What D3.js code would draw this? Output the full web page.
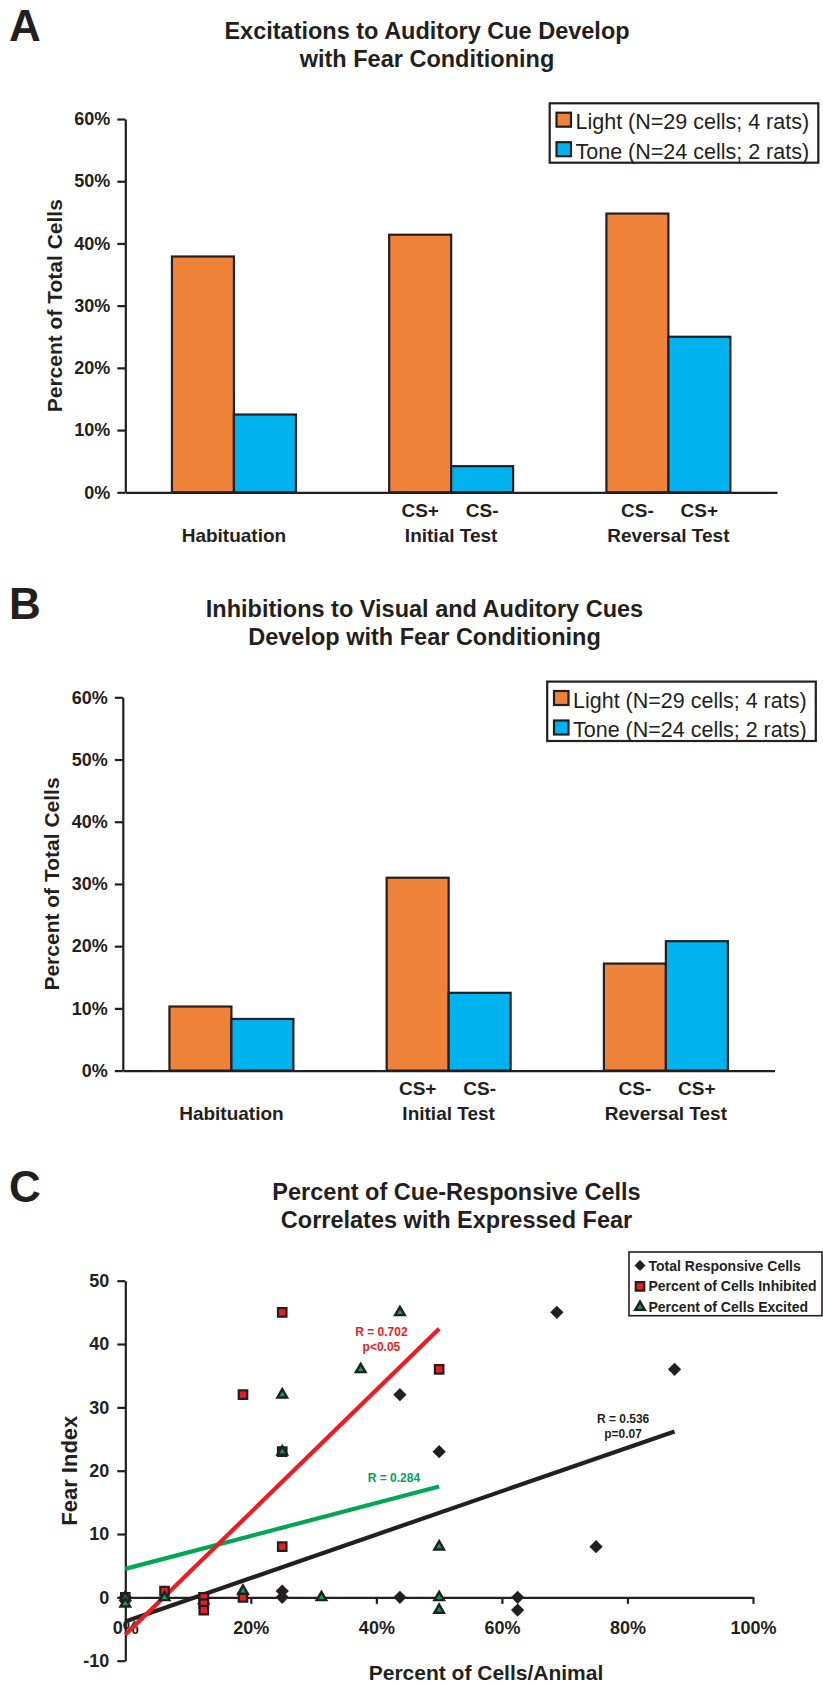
<!DOCTYPE html>
<html><head><meta charset="utf-8">
<script src="https://cdn.jsdelivr.net/npm/d3@7"></script>
<style>
html,body{margin:0;padding:0;background:#fff;}
svg text{font-family:"Liberation Sans",Arial,Helvetica,sans-serif;fill:#231f20;}
</style></head>
<body>
<svg id="chart" width="823" height="1685"></svg>
<script>
// ---------- DATA ----------
const groups = ["Habituation", "Initial Test", "Reversal Test"];
const cueLabels = [["", ""], ["CS+", "CS-"], ["CS-", "CS+"]];
const series = ["Light (N=29 cells; 4 rats)", "Tone (N=24 cells; 2 rats)"];
const excitLight = [37.9, 41.4, 44.8];
const excitTone = [12.5, 4.2, 25.0];
const inhibLight = [10.3, 31.0, 17.2];
const inhibTone = [8.3, 12.5, 20.8];
const barTicks = [0, 10, 20, 30, 40, 50, 60];
const titleA = ["Excitations to Auditory Cue Develop", "with Fear Conditioning"];
const titleB = ["Inhibitions to Visual and Auditory Cues", "Develop with Fear Conditioning"];
const titleC = ["Percent of Cue-Responsive Cells", "Correlates with Expressed Fear"];

// Panel C: one entry per animal
const fearIndex = [45, 36, 32, 23, 8, 1, 0, 0, 0, 0, -1, -2];
const totalPct = [68.75, 87.5, 43.75, 50, 75, 25, 25, 43.75, 62.5, 0, 12.5, 62.5];
const inhibPct = [25, 50, 18.75, 25, 25, 6.25, 18.75, 12.5, 12.5, 0, 12.5, 12.5];
const excitPct = [43.75, 37.5, 25, 25, 50, 18.75, 6.25, 31.25, 50, 0, 0, 50];
const scatterNames = ["Total Responsive Cells", "Percent of Cells Inhibited", "Percent of Cells Excited"];
const fitTotal = [[0, -3.8], [87.5, 26.2]];
const fitInhib = [[0, -5.9], [50, 42.4]];
const fitExcit = [[0, 4.5], [50, 17.5]];
const fitTotalLabel = {lines: ["R = 0.536", "p=0.07"], x: 79.3, y: 27.6};
const fitInhibLabel = {lines: ["R = 0.702", "p<0.05"], x: 40.8, y: 41.2};
const fitExcitLabel = {lines: ["R = 0.284"], x: 42.8, y: 18.2};
const cXTicks = [0, 20, 40, 60, 80, 100];
const cYTicks = [-10, 0, 10, 20, 30, 40, 50];

// ---------- STYLE ----------
const INK = "#231f20";
const ORANGE = "#F0833A";
const BLUE = "#00B3EE";
const RED = "#ED1C24";
const GREEN = "#00A651";

const svg = d3.select("#chart");

function styleAxis(g) {
  g.select(".domain").attr("stroke", INK).attr("stroke-width", 2.2);
  g.selectAll(".tick line").attr("stroke", INK).attr("stroke-width", 2.2);
  g.selectAll(".tick text").attr("fill", INK).attr("font-size", 18).attr("font-weight", "bold")
    .attr("font-family", '"Liberation Sans",Arial,sans-serif');
}

function barPanel(letter, title, light, tone, dx, dy) {
  const g = svg.append("g").attr("transform", `translate(${dx},${dy})`);
  g.append("text").attr("x", 9 - dx).attr("y", 41).attr("font-size", 44).attr("font-weight", "bold").text(letter);
  g.append("text").attr("x", 427).attr("text-anchor", "middle").attr("font-size", 23.5).attr("font-weight", "bold")
    .selectAll("tspan").data(title).join("tspan").attr("x", 427).attr("y", (d, i) => 39 + i * 27.5).text(d => d);

  const y = d3.scaleLinear().domain([0, 60]).range([492.3, 119]);
  const x0 = d3.scaleBand().domain(groups).range([125.3, 777]).paddingInner(0.4294).paddingOuter(0.2147);
  const x1 = d3.scaleBand().domain([0, 1]).range([0, x0.bandwidth()]);

  // bars
  const rows = groups.map((k, i) => ({k, i, vals: [light[i], tone[i]]}));
  const gg = g.append("g").selectAll("g").data(rows).join("g").attr("transform", d => `translate(${x0(d.k)},0)`);
  gg.selectAll("rect").data(d => d.vals.map((v, j) => ({v, j}))).join("rect")
    .attr("x", d => x1(d.j)).attr("width", x1.bandwidth())
    .attr("y", d => y(d.v)).attr("height", d => y(0) - y(d.v))
    .attr("fill", d => d.j === 0 ? ORANGE : BLUE).attr("stroke", INK).attr("stroke-width", 2.2);

  // axes
  g.append("g").attr("transform", `translate(0,${y(0)})`)
    .call(d3.axisBottom(x0).tickSize(0).tickSizeOuter(0).tickFormat(""))
    .call(styleAxis);
  g.append("g").attr("transform", "translate(125.3,0)")
    .call(d3.axisLeft(y).tickValues(barTicks).tickSize(8).tickSizeOuter(0).tickPadding(7).tickFormat(d => d + "%"))
    .call(styleAxis);

  // category labels
  g.append("g").selectAll("text").data(groups).join("text")
    .attr("x", d => x0(d) + x0.bandwidth() / 2).attr("y", 541.7)
    .attr("text-anchor", "middle").attr("font-size", 19).attr("font-weight", "bold").text(d => d);
  g.append("g").selectAll("g").data(rows).join("g").attr("transform", d => `translate(${x0(d.k)},0)`)
    .selectAll("text").data(d => cueLabels[d.i].map((t, j) => ({t, j}))).join("text")
    .attr("x", d => x1(d.j) + x1.bandwidth() / 2).attr("y", 516.7)
    .attr("text-anchor", "middle").attr("font-size", 19).attr("font-weight", "bold").text(d => d.t);

  // y title
  g.append("text").attr("transform", "translate(61.5,305.7) rotate(-90)").attr("text-anchor", "middle")
    .attr("font-size", 21).attr("font-weight", "bold").text("Percent of Total Cells");

  // legend
  const lg = g.append("g");
  lg.append("rect").attr("x", 549.7).attr("y", 103.3).attr("width", 268.6).attr("height", 59.4)
    .attr("fill", "#fff").attr("stroke", INK).attr("stroke-width", 2.2);
  const items = lg.selectAll("g").data(series).join("g").attr("transform", (d, i) => `translate(0,${i * 29.5})`);
  items.append("rect").attr("x", 556.5).attr("y", 112.7).attr("width", 14.5).attr("height", 14)
    .attr("fill", (d, i) => i === 0 ? ORANGE : BLUE).attr("stroke", INK).attr("stroke-width", 2.2);
  items.append("text").attr("x", 575.5).attr("y", 129.3).attr("font-size", 21.5).text(d => d);
}

barPanel("A", titleA, excitLight, excitTone, 0, 0);
barPanel("B", titleB, inhibLight, inhibTone, -2.5, 578.3);

// ---------- PANEL C ----------
(function () {
  const g = svg.append("g");
  g.append("text").attr("x", 9).attr("y", 1202).attr("font-size", 44).attr("font-weight", "bold").text("C");
  g.append("text").attr("text-anchor", "middle").attr("font-size", 23.5).attr("font-weight", "bold")
    .selectAll("tspan").data(titleC).join("tspan").attr("x", 456.5).attr("y", (d, i) => 1199.5 + i * 28.5).text(d => d);

  const x = d3.scaleLinear().domain([0, 100]).range([125.3, 753]);
  const y = d3.scaleLinear().domain([-10, 50]).range([1660.7, 1280.7]);

  g.append("g").attr("transform", `translate(0,${y(0)})`)
    .call(d3.axisBottom(x).tickValues(cXTicks).tickSize(6.5).tickSizeOuter(0).tickPadding(17.5).tickFormat(d => d + "%"))
    .call(styleAxis)
    .call(a => a.selectAll(".tick").filter(d => d === 0).select("line").remove());
  g.append("g").attr("transform", `translate(${x(0)},0)`)
    .call(d3.axisLeft(y).tickValues(cYTicks).tickSize(8).tickSizeOuter(0).tickPadding(8).tickFormat(d => d))
    .call(styleAxis);

  // fit lines
  const line = d3.line().x(d => x(d[0])).y(d => y(d[1]));
  [[fitExcit, GREEN], [fitTotal, INK], [fitInhib, RED]].forEach(([pts, c]) => {
    g.append("path").attr("d", line(pts)).attr("stroke", c).attr("stroke-width", 4.2).attr("fill", "none");
  });

  // markers
  const diamond = d3.symbol(d3.symbolSquare, 88)();
  const square = d3.symbol(d3.symbolSquare, 72)();
  const tri = d3.symbol(d3.symbolTriangle, 40)();
  const pts = fearIndex.map((f, i) => ({f, t: totalPct[i], inh: inhibPct[i], exc: excitPct[i]}));
  g.append("g").selectAll("path").data(pts).join("path").attr("d", diamond)
    .attr("transform", d => `translate(${x(d.t)},${y(d.f)}) rotate(45)`).attr("fill", INK);
  g.append("g").selectAll("path").data(pts).join("path").attr("d", square)
    .attr("transform", d => `translate(${x(d.inh)},${y(d.f)})`).attr("fill", RED).attr("stroke", INK).attr("stroke-width", 2.2);
  g.append("g").selectAll("path").data(pts).join("path").attr("d", tri)
    .attr("transform", d => `translate(${x(d.exc)},${y(d.f)})`).attr("fill", GREEN).attr("stroke", INK).attr("stroke-width", 2.4)
    .attr("stroke-linejoin", "miter");

  // fit labels
  [[fitInhibLabel, RED], [fitExcitLabel, GREEN], [fitTotalLabel, INK]].forEach(([lab, c]) => {
    g.append("text").attr("text-anchor", "middle").attr("font-size", 12).attr("font-weight", "bold")
      .selectAll("tspan").data(lab.lines).join("tspan")
      .attr("x", x(lab.x)).attr("y", (d, i) => y(lab.y) + i * 15).attr("fill", c).text(d => d);
  });

  // axis titles
  g.append("text").attr("transform", "translate(77.3,1470.7) rotate(-90)").attr("text-anchor", "middle")
    .attr("font-size", 22).attr("font-weight", "bold").text("Fear Index");
  g.append("text").attr("x", 486).attr("y", 1680).attr("text-anchor", "middle")
    .attr("font-size", 21).attr("font-weight", "bold").text("Percent of Cells/Animal");

  // legend
  const lg = g.append("g");
  lg.append("rect").attr("x", 629).attr("y", 1252).attr("width", 193).attr("height", 63.7)
    .attr("fill", "#fff").attr("stroke", INK).attr("stroke-width", 1.6);
  const shapes = [
    s => s.append("path").attr("d", d3.symbol(d3.symbolSquare, 60)()).attr("transform", "rotate(45)").attr("fill", INK),
    s => s.append("path").attr("d", square).attr("fill", RED).attr("stroke", INK).attr("stroke-width", 2.2),
    s => s.append("path").attr("d", tri).attr("fill", GREEN).attr("stroke", INK).attr("stroke-width", 2.4)
  ];
  scatterNames.forEach((name, i) => {
    const row = lg.append("g").attr("transform", `translate(0,${i * 20.8})`);
    shapes[i](row.append("g").attr("transform", `translate(640,1265.5)`));
    row.append("text").attr("x", 648.5).attr("y", 1270.5).attr("font-size", 14).attr("font-weight", "bold").text(name);
  });
})();
</script>
</body></html>
